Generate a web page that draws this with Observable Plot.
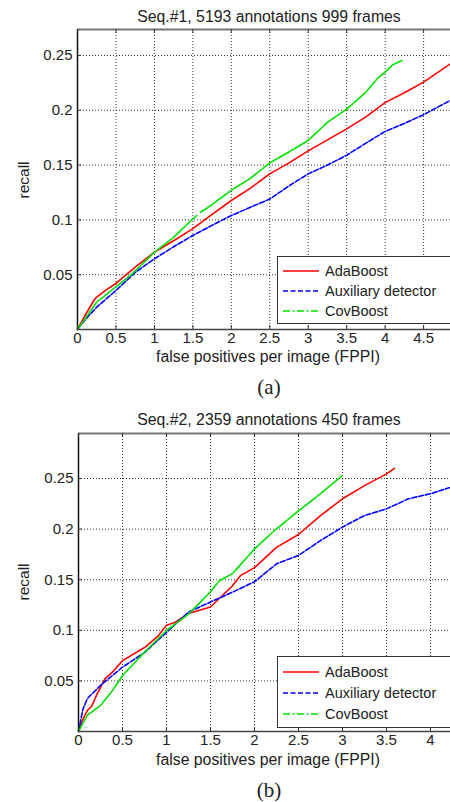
<!DOCTYPE html>
<html>
<head>
<meta charset="utf-8">
<script src="https://cdn.jsdelivr.net/npm/d3@7"></script>
<script src="https://cdn.jsdelivr.net/npm/@observablehq/plot@0.6"></script>
<style>
  html, body { margin: 0; padding: 0; background: #fff; }
  #page { position: relative; width: 450px; height: 802px; overflow: hidden; background: #fff;
          font-family: "Liberation Sans", Arial, Helvetica, sans-serif; color: #222; }
  .txt { position: absolute; white-space: nowrap; transform: translate(-50%, -50%); line-height: 1; }
  .plot { position: absolute; left: 0; }
  .legend { position: absolute; background: #fff; border: 1px solid #333; width: 220px; box-sizing: border-box; }
  .legend .row { position: absolute; left: 5px; height: 20px; display: flex; align-items: center; font-size: 14.5px; }
  .legend svg { margin-right: 6px; }
</style>
</head>
<body>
<div id="page"></div>
<script>
// ---------- data ----------
const seriesNames = ["AdaBoost", "Auxiliary detector", "CovBoost"];
const seriesColors = ["#ff0000", "#0000ff", "#00e000"];
const seriesDash = ["none", "5,2", "14,1.5,2,1.5"];

// Seq.#1 (a)
const a_ada_x = [0,0.1,0.23,0.35,0.5,0.75,1,1.25,1.5,1.75,2,2.25,2.5,2.75,3,3.25,3.5,3.75,4,4.25,4.5,4.85];
const a_ada_y = [0,0.013,0.0285,0.035,0.042,0.057,0.0705,0.081,0.092,0.105,0.1177,0.129,0.142,0.152,0.163,0.173,0.183,0.194,0.207,0.216,0.2257,0.2424];
const a_aux_x = [0,0.1,0.25,0.5,0.75,1,1.25,1.5,1.75,2,2.25,2.5,2.75,3,3.25,3.5,3.75,4,4.25,4.5,4.85];
const a_aux_y = [0,0.009,0.0204,0.0356,0.052,0.0645,0.0755,0.0858,0.095,0.104,0.1116,0.119,0.131,0.142,0.15,0.159,0.17,0.1807,0.188,0.196,0.209];
const a_cov_x = [0,0.1,0.25,0.5,0.7,1,1.25,1.5,1.55,1.57,1.6,1.75,2,2.25,2.5,2.75,3,3.25,3.5,3.75,3.9,4,4.1,4.22];
const a_cov_y = [0,0.01,0.025,0.039,0.05,0.0705,0.084,0.101,0.104,NaN,0.107,0.114,0.127,0.138,0.152,0.162,0.1725,0.189,0.201,0.2166,0.229,0.2348,0.2415,0.2454];

// Seq.#2 (b)
const b_ada_x = [0,0.05,0.1,0.15,0.21,0.3,0.4,0.5,0.75,0.9,1,1.1,1.25,1.5,1.75,1.84,2,2.25,2.5,2.75,3,3.25,3.5,3.59];
const b_ada_y = [0,0.012,0.0207,0.025,0.037,0.052,0.06,0.07,0.083,0.094,0.105,0.108,0.1166,0.123,0.144,0.154,0.162,0.182,0.1947,0.2134,0.23,0.243,0.2546,0.26];
const b_aux_x = [0,0.05,0.1,0.25,0.5,0.75,1,1.25,1.5,1.75,2,2.25,2.5,2.75,3,3.25,3.5,3.75,4,4.23];
const b_aux_y = [0,0.022,0.0325,0.0455,0.0636,0.078,0.098,0.118,0.128,0.1377,0.148,0.1657,0.174,0.1887,0.202,0.2134,0.22,0.23,0.235,0.2414];
const b_cov_x = [0,0.1,0.25,0.4,0.5,0.75,1,1.25,1.5,1.6,1.75,2,2.25,2.5,2.75,3];
const b_cov_y = [0,0.016,0.0257,0.042,0.0553,0.0784,0.0998,0.116,0.138,0.149,0.156,0.1805,0.2003,0.218,0.235,0.253];

const a_xticks = [0,0.5,1,1.5,2,2.5,3,3.5,4,4.5];
const b_xticks = [0,0.5,1,1.5,2,2.5,3,3.5,4];
const yticks = [0.05,0.1,0.15,0.2,0.25];

const panels = [
  { title: "Seq.#1, 5193 annotations 999 frames", tag: "(a)",
    xs: [a_ada_x, a_aux_x, a_cov_x], ys: [a_ada_y, a_aux_y, a_cov_y],
    xticks: a_xticks, xmax: 4.85, ymax: 0.2737,
    top: 0, mTop: 29, mBottom: 41, mLeft: 77,
    titleY: 17, xlabY: 357, tagY: 387, recallY: 180, legTop: 256, legH: 68 },
  { title: "Seq.#2, 2359 annotations 450 frames", tag: "(b)",
    xs: [b_ada_x, b_aux_x, b_cov_x], ys: [b_ada_y, b_aux_y, b_cov_y],
    xticks: b_xticks, xmax: 4.227, ymax: 0.2945,
    top: 400, mTop: 33, mBottom: 39, mLeft: 78,
    titleY: 420, xlabY: 760, tagY: 790, recallY: 582, legTop: 656, legH: 72 }
];

const page = document.getElementById("page");
function addText(str, x, y, style) {
  const d = document.createElement("div");
  d.className = "txt";
  d.textContent = str;
  d.style.left = x + "px";
  d.style.top = y + "px";
  Object.assign(d.style, style || {});
  page.appendChild(d);
  return d;
}

for (const p of panels) {
  const W = 450, H = 370;
  const fh = H - p.mTop - p.mBottom;
  const fw = W - p.mLeft;
  const rows = [];
  p.xs.forEach((xa, i) => xa.forEach((x, j) => rows.push({ s: seriesNames[i], x, y: p.ys[i][j] })));
  const lineMarks = seriesNames.map((name, i) =>
    Plot.line(rows.filter(r => r.s === name), {
      x: "x", y: "y", stroke: seriesColors[i], strokeWidth: 1.6,
      strokeDasharray: seriesDash[i] === "none" ? null : seriesDash[i], curve: "linear"
    })
  );
  const chart = Plot.plot({
    width: W, height: H,
    marginLeft: p.mLeft, marginRight: 0, marginTop: p.mTop, marginBottom: p.mBottom,
    x: { domain: [0, p.xmax] },
    y: { domain: [0, p.ymax] },
    style: { fontFamily: '"Liberation Sans", Arial, Helvetica, sans-serif', fontSize: "15px", color: "#222", background: "transparent", overflow: "visible" },
    marks: [
      Plot.gridX(p.xticks.filter(d => d > 0), { stroke: "#000", strokeOpacity: 0.8, strokeWidth: 1, strokeDasharray: "1,2" }),
      Plot.gridY(yticks, { stroke: "#000", strokeOpacity: 0.8, strokeWidth: 1, strokeDasharray: "1,2" }),
      ...lineMarks,
      // frame
      Plot.ruleY([p.ymax], { stroke: "#777", strokeWidth: 2 }),
      Plot.ruleY([0], { stroke: "#444", strokeWidth: 1.5 }),
      Plot.ruleX([0], { stroke: "#111", strokeWidth: 1.5 }),
      // inward ticks
      Plot.tickX(p.xticks, { x: d => d, insetTop: fh - 4, stroke: "#333" }),
      Plot.tickX(p.xticks, { x: d => d, insetBottom: fh - 4, stroke: "#333" }),
      Plot.tickY(yticks, { y: d => d, insetRight: fw - 4, stroke: "#333" }),
      Plot.axisX(p.xticks, { tickSize: 0, tickPadding: 3, tickFormat: d => String(d), label: null, fontSize: 15 }),
      Plot.axisY(yticks, { tickSize: 0, tickPadding: 5, tickFormat: d => String(d), label: null, fontSize: 15 })
    ]
  });
  chart.classList.add("plot");
  chart.style.top = p.top + "px";
  page.appendChild(chart);

  addText(p.title, 269, p.titleY, { fontSize: "15.8px" });
  addText("false positives per image (FPPI)", 268, p.xlabY, { fontSize: "15.8px" });
  addText("recall", 24, p.recallY, { fontSize: "15.5px", transform: "translate(-50%, -50%) rotate(-90deg)" });
  addText(p.tag, 269, p.tagY, { fontSize: "21px", fontFamily: '"Liberation Serif", "Times New Roman", serif' });

  // legend
  const leg = document.createElement("div");
  leg.className = "legend";
  leg.style.left = "277px";
  leg.style.top = p.legTop + "px";
  leg.style.height = p.legH + "px";
  const step = (p.legH - 8) / 3;
  seriesNames.forEach((name, i) => {
    const r = document.createElement("div");
    r.className = "row";
    r.style.top = (4 + i * step + (step - 20) / 2) + "px";
    const dash = seriesDash[i] === "none" ? "" : ` stroke-dasharray="${i === 1 ? "5,2.5" : "7,2.5,2,2.5"}"`;
    r.innerHTML = `<svg width="36" height="6"><line x1="0" y1="3" x2="36" y2="3" stroke="${seriesColors[i]}" stroke-width="1.6"${dash}/></svg><span>${name}</span>`;
    leg.appendChild(r);
  });
  page.appendChild(leg);
}
</script>
</body>
</html>
